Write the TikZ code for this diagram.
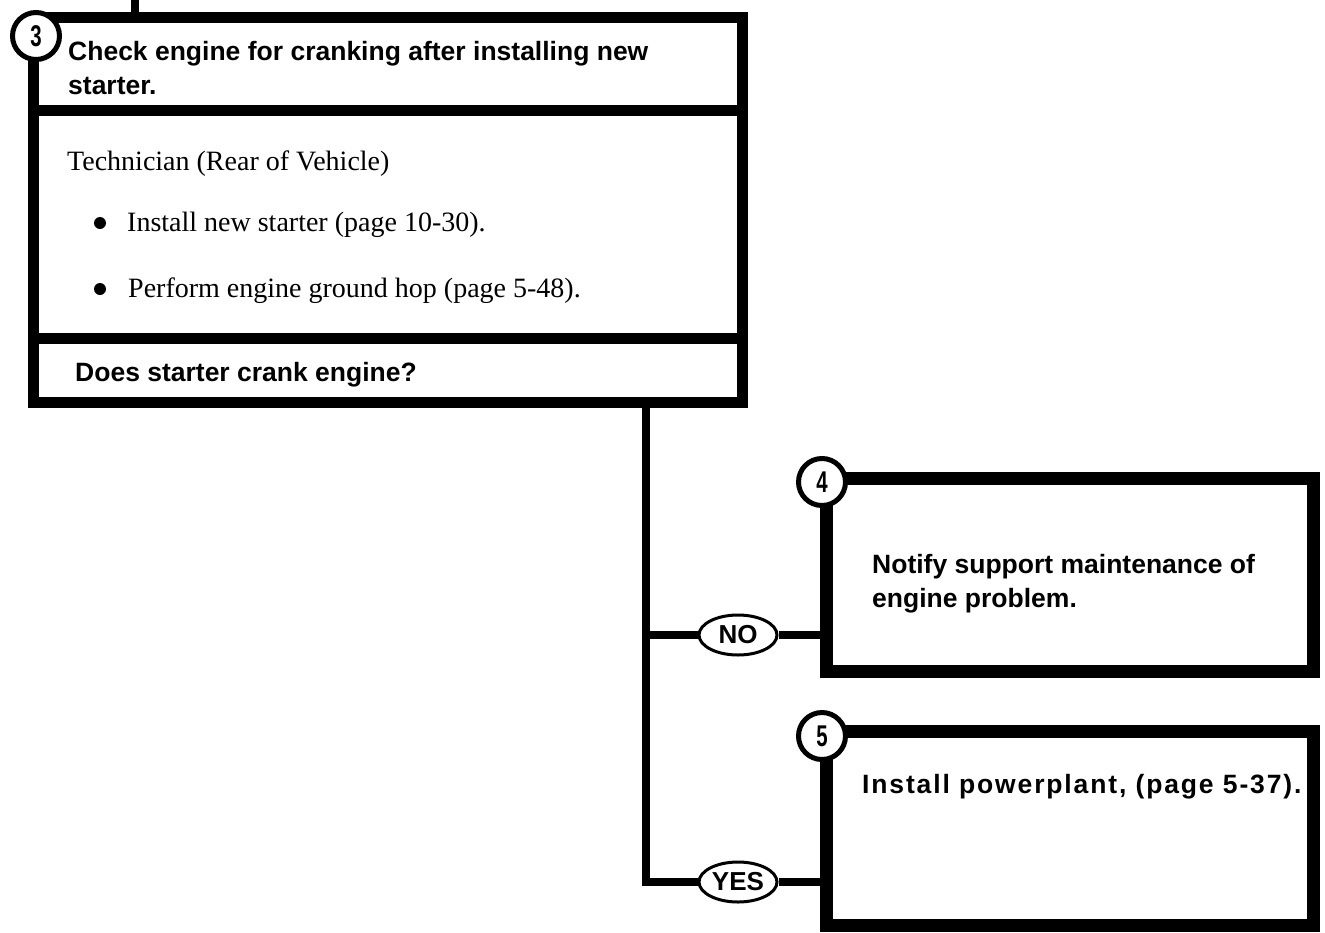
\documentclass[tikz,border=0pt]{standalone}
\usepackage{fontspec}
\usepackage{graphicx}
\setmainfont{Liberation Serif}
\setsansfont{Liberation Sans}
\usetikzlibrary{shapes.geometric}

\begin{document}
\begin{tikzpicture}[x=1pt, y=-1pt]

	\tikzset{
		frame/.style={draw, rectangle, line width=11pt, inner sep=0pt, outer sep=0pt, anchor=north west},
		num/.style={circle, draw, fill=white, line width=5pt, minimum size=47pt, inner sep=0pt,
			font=\sffamily\bfseries\fontsize{30}{30}\selectfont},
		link/.style={line width=8pt},
		yn/.style={ellipse, draw, fill=white, line width=3pt, minimum width=78pt, minimum height=40pt,
			inner sep=0pt, font=\sffamily\bfseries\fontsize{26}{26}\selectfont},
		head/.style={anchor=base west, inner sep=0pt, font=\sffamily\bfseries\fontsize{26.5}{26.5}\selectfont},
		body/.style={anchor=base west, inner sep=0pt, font=\rmfamily\fontsize{28}{28}\selectfont},
		dot/.style={circle, fill, inner sep=0pt, minimum size=12pt}
	}

	\useasboundingbox (0,0) rectangle (1325,932);

	% ---------------------------
	% Step 3: header, procedure and question
	% ---------------------------
	\node[frame, minimum width=709.5pt, minimum height=92.5pt] (head3) at (33,17.5) {};
	\node[frame, minimum width=709.5pt, minimum height=228.5pt] (body3) at (33,110) {};
	\node[frame, minimum width=709.5pt, minimum height=63.5pt] (ask3) at (33,338.5) {};

	\coordinate (feed) at (135,0);
	\draw[link] (feed) -- (feed |- head3.north);

	\node[num] (n3) at (36,36) {\scalebox{0.68}[1]{3}};

	\node[head] (t3a) at (68,60) {Check engine for cranking after installing new};
	\node[head] (t3b) at (68,94) {starter.};

	\node[body] (tech) at (67,170) {Technician (Rear of Vehicle)};
	\node[dot] (d1) at (100,223) {};
	\node[body] (item1) at (127,231) {Install new starter (page 10-30).};
	\node[dot] (d2) at (100,289) {};
	\node[body] (item2) at (128,297) {Perform engine ground hop (page 5-48).};

	\node[head] (askt) at (75,381) {Does starter crank engine?};

	% ---------------------------
	% Steps 4 and 5
	% ---------------------------
	\node[frame, line width=13pt, minimum width=487pt, minimum height=193pt] (box4) at (826.5,478.5) {};
	\node[frame, line width=13pt, minimum width=487pt, minimum height=194pt] (box5) at (826.5,731.5) {};

	\node[num] (n4) at (822,482) {\scalebox{0.68}[1]{4}};
	\node[num] (n5) at (822,736) {\scalebox{0.68}[1]{5}};

	\node[head] (t4a) at (872,573) {Notify support maintenance of};
	\node[head] (t4b) at (872,607) {engine problem.};
	\node[head] (t5) at (862,793) {\addfontfeature{LetterSpace=7}Install powerplant, (page 5-37).};

	% ---------------------------
	% NO / YES branches
	% ---------------------------
	\node[yn] (no) at (738,635) {NO};
	\node[yn] (yes) at (738,882) {YES};

	\coordinate (drop) at (646,402);
	\draw[link] (drop) |- (yes.west);
	\draw[link] (no.west) -- (no.west -| drop);
	\draw[link] (no.east) -- (no.east -| box4.west);
	\draw[link] (yes.east) -- (yes.east -| box5.west);

\end{tikzpicture}
\end{document}
